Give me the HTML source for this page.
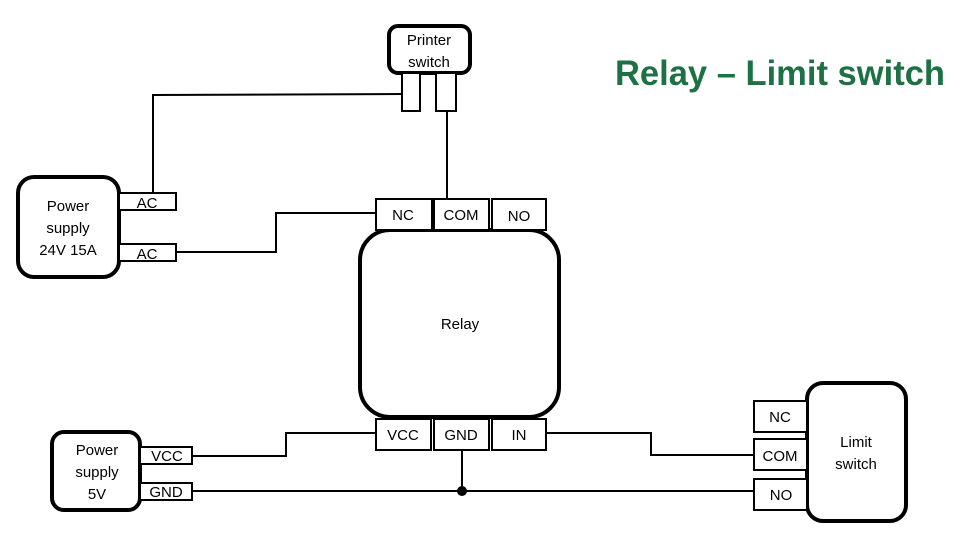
<!DOCTYPE html>
<html><head><meta charset="utf-8"><style>html,body{margin:0;padding:0;background:#fff}svg{display:block}</style></head>
<body>
<svg width="963" height="541" viewBox="0 0 963 541" xmlns="http://www.w3.org/2000/svg" font-family="Liberation Sans, sans-serif" font-size="15" fill="none" stroke="#000">
<g stroke-width="2">
<polyline points="402,94 153,95 153,193"/>
<line x1="447" y1="112" x2="447" y2="199"/>
<polyline points="176,252 276,252 276,213 376,213"/>
<polyline points="192,456 286,456 286,433 376,433"/>
<line x1="192" y1="491" x2="754" y2="491"/>
<line x1="462" y1="450" x2="462" y2="491"/>
<polyline points="546,433 651,433 651,455 754,455"/>
</g>
<circle cx="462" cy="491" r="5" fill="#000" stroke="none"/>
<g stroke-width="4" fill="#fff">
<rect x="389" y="26" width="81" height="47" rx="9"/>
<rect x="18" y="177" width="101" height="100" rx="16"/>
<rect x="360" y="230" width="199" height="187" rx="30"/>
<rect x="52" y="432" width="88" height="78" rx="12"/>
<rect x="807" y="383" width="99" height="138" rx="16"/>
</g>
<g stroke-width="2" fill="#fff">
<rect x="402" y="73" width="18" height="38"/>
<rect x="436" y="73" width="20" height="38"/>
<rect x="119" y="193" width="57" height="17"/>
<rect x="119" y="244" width="57" height="17"/>
<rect x="376" y="199" width="56" height="31"/>
<rect x="434" y="199" width="55" height="31"/>
<rect x="492" y="199" width="54" height="31"/>
<rect x="376" y="419" width="55" height="31"/>
<rect x="434" y="419" width="55" height="31"/>
<rect x="492" y="419" width="54" height="31"/>
<rect x="140" y="447" width="52" height="17"/>
<rect x="140" y="483" width="52" height="17"/>
<rect x="754" y="401" width="53" height="31"/>
<rect x="754" y="439" width="53" height="31"/>
<rect x="754" y="479" width="53" height="31"/>
</g>
<g fill="#000" stroke="none" text-anchor="middle">
<text x="429" y="45">Printer</text><text x="429" y="67">switch</text>
<text x="68" y="211">Power</text><text x="68" y="233">supply</text><text x="68" y="255">24V 15A</text>
<text x="147" y="208">AC</text><text x="147" y="259">AC</text>
<text x="403" y="220">NC</text><text x="461" y="220">COM</text><text x="519" y="221">NO</text>
<text x="460" y="329">Relay</text>
<text x="403" y="440">VCC</text><text x="461" y="440">GND</text><text x="519" y="440">IN</text>
<text x="97" y="455">Power</text><text x="97" y="477">supply</text><text x="97" y="499">5V</text>
<text x="167" y="461">VCC</text><text x="166" y="497">GND</text>
<text x="780" y="422">NC</text><text x="780" y="461">COM</text><text x="781" y="500">NO</text>
<text x="856" y="447">Limit</text><text x="856" y="469">switch</text>
<text x="615" y="85" text-anchor="start" font-size="35" font-weight="bold" fill="#1e7145" textLength="330" lengthAdjust="spacingAndGlyphs">Relay – Limit switch</text>
</g>
</svg>
</body></html>
